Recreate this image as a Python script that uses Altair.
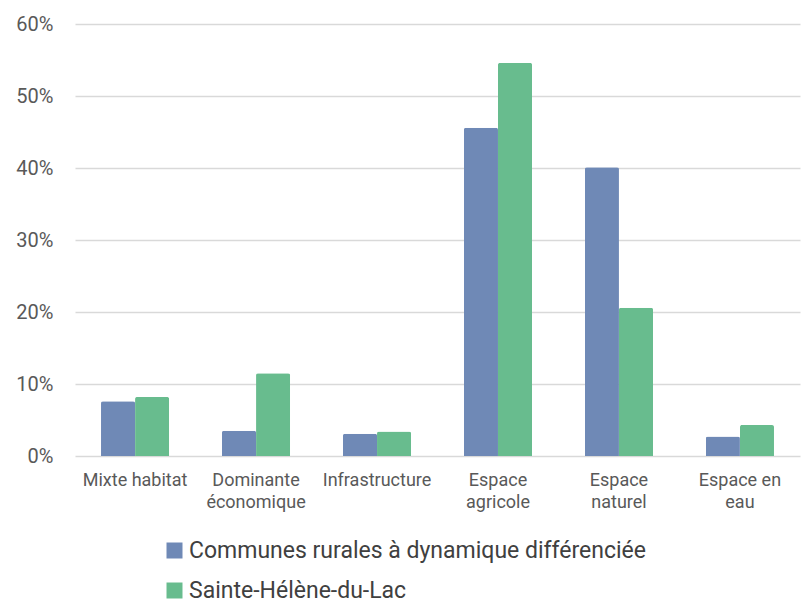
import altair as alt
import pandas as pd

categories = ["Mixte habitat", "Dominante économique", "Infrastructure",
              "Espace agricole", "Espace naturel", "Espace en eau"]
label_lines = [["Mixte habitat"], ["Dominante", "économique"], ["Infrastructure"],
               ["Espace", "agricole"], ["Espace", "naturel"], ["Espace en", "eau"]]
series = ["Communes rurales à dynamique différenciée", "Sainte-Hélène-du-Lac"]
communes = [7.6, 3.5, 3.1, 45.6, 40.1, 2.7]
sainte = [8.2, 11.5, 3.4, 54.6, 20.6, 4.3]
colors = ["#6F89B6", "#68BC8E"]

rows = []
for c, a, b in zip(categories, communes, sainte):
    rows.append({"cat": c, "serie": series[0], "val": a / 100})
    rows.append({"cat": c, "serie": series[1], "val": b / 100})
df = pd.DataFrame(rows)

expr = "''"
for c, lines in zip(categories, label_lines):
    arr = "[" + ",".join("'" + l + "'" for l in lines) + "]"
    expr = f"datum.label == '{c}' ? {arr} : ({expr})"

chart = alt.Chart(df).mark_bar(cornerRadiusTopLeft=2, cornerRadiusTopRight=2).encode(
    x=alt.X("cat:N", sort=categories, title=None,
            scale=alt.Scale(paddingInner=0.437, paddingOuter=0.215),
            axis=alt.Axis(labelAngle=0, labelExpr=expr, domain=False, ticks=False,
                          labelFont="Roboto", labelFontSize=18, labelColor="#595959",
                          labelPadding=15, labelLineHeight=22, labelBaseline="top")),
    xOffset=alt.XOffset("serie:N", sort=series),
    y=alt.Y("val:Q", title=None,
            scale=alt.Scale(domain=[0, 0.6]),
            axis=alt.Axis(format=".0%", values=[0, 0.1, 0.2, 0.3, 0.4, 0.5, 0.6],
                          domain=False, ticks=False, gridColor="#D9D9D9", gridWidth=1.5,
                          labelFont="Roboto", labelFontSize=20, labelColor="#595959",
                          labelPadding=22)),
    color=alt.Color("serie:N", sort=series, title=None,
                    scale=alt.Scale(domain=series, range=colors),
                    legend=alt.Legend(orient="none", legendX=88, legendY=515,
                                      direction="vertical", symbolType="square",
                                      symbolSize=256, symbolStrokeWidth=0,
                                      labelFont="Roboto", labelFontSize=23,
                                      labelColor="#404040", labelOffset=3,
                                      rowPadding=16, padding=0, labelLimit=700)),
).properties(
    width=725, height=432,
    autosize=alt.AutoSizeParams(type="none"),
    padding={"left": 67, "top": 16, "right": 2, "bottom": 146},
).configure_view(stroke=None)

chart.save("out.html", embed_options={"renderer": "svg", "actions": False})
